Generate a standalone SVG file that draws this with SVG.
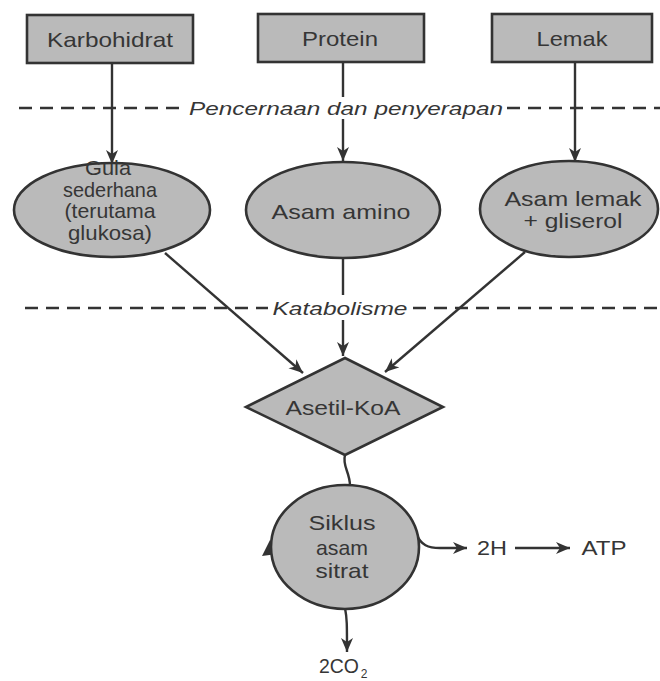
<svg xmlns="http://www.w3.org/2000/svg" width="660" height="681" viewBox="0 0 660 681">
<style>
.node{fill:#bababa;stroke:#333;stroke-width:2.6}
.t{font-family:"Liberation Sans",Arial,sans-serif;font-size:21px;fill:#363636;text-anchor:middle}
.i{font-style:italic;font-size:19px}
.dash{stroke:#333;stroke-width:2.5;stroke-dasharray:13 8;fill:none}
.c{stroke:#333;stroke-width:2.4;fill:none}
.ca{stroke:#333;stroke-width:2.4;fill:none;marker-end:url(#ah)}
</style>
<defs>
<marker id="ah" markerUnits="userSpaceOnUse" markerWidth="16" markerHeight="14" refX="14" refY="6" orient="auto">
<path d="M0,0 L14,6 L0,12 L4,6 z" fill="#333"/>
</marker>
</defs>
<rect width="660" height="681" fill="#fff"/>

<g id="separators">
<line class="dash" x1="19" y1="108" x2="186" y2="108"/>
<line class="dash" x1="507" y1="108" x2="660" y2="108"/>
<text class="t i" x="346" y="115" textLength="314" lengthAdjust="spacingAndGlyphs">Pencernaan dan penyerapan</text>
<line class="dash" x1="25" y1="308" x2="268" y2="308"/>
<line class="dash" x1="413" y1="308" x2="660" y2="308"/>
<text class="t i" x="340" y="315" textLength="135" lengthAdjust="spacingAndGlyphs">Katabolisme</text>
</g>

<g id="connectors">
<line class="ca" x1="112" y1="63" x2="112" y2="164"/>
<line class="c" x1="343" y1="62" x2="343" y2="97"/>
<line class="ca" x1="343" y1="119" x2="343" y2="161"/>
<line class="ca" x1="575" y1="63" x2="575" y2="162"/>
<line class="ca" x1="165" y1="253" x2="303" y2="373"/>
<line class="c" x1="343" y1="258" x2="343" y2="295"/>
<line class="ca" x1="343" y1="320" x2="343" y2="356"/>
<line class="ca" x1="525" y1="252" x2="385" y2="372"/>
<path class="c" d="M345,455 C342,466 350,472 350,486"/>
<path class="ca" d="M417,535 C421,545 428,548 440,548 L467,548"/>
<line class="ca" x1="515" y1="548" x2="570" y2="548"/>
<path class="ca" d="M345,608 C347,618 347,624 347,652"/>
<polygon points="262,556 270,540 277,554" fill="#333"/>
</g>

<g id="karbohidrat">
<rect class="node" x="27" y="15" width="166" height="48"/>
<text class="t" x="110" y="47" textLength="126" lengthAdjust="spacingAndGlyphs">Karbohidrat</text>
</g>
<g id="protein">
<rect class="node" x="258" y="14" width="166" height="48"/>
<text class="t" x="340" y="46" textLength="76" lengthAdjust="spacingAndGlyphs">Protein</text>
</g>
<g id="lemak">
<rect class="node" x="492" y="14" width="160" height="48"/>
<text class="t" x="572" y="46" textLength="71" lengthAdjust="spacingAndGlyphs">Lemak</text>
</g>

<g id="gula">
<ellipse class="node" cx="112" cy="210" rx="98" ry="47"/>
<text class="t" x="108" y="175" textLength="46" lengthAdjust="spacingAndGlyphs">Gula</text>
<text class="t" x="110" y="197" textLength="94" lengthAdjust="spacingAndGlyphs">sederhana</text>
<text class="t" x="110" y="218" textLength="91" lengthAdjust="spacingAndGlyphs">(terutama</text>
<text class="t" x="110" y="240" textLength="84" lengthAdjust="spacingAndGlyphs">glukosa)</text>
</g>
<g id="asam-amino">
<ellipse class="node" cx="343" cy="210" rx="97" ry="48"/>
<text class="t" x="341" y="219" textLength="139" lengthAdjust="spacingAndGlyphs">Asam amino</text>
</g>
<g id="asam-lemak">
<ellipse class="node" cx="569" cy="209" rx="89" ry="48"/>
<text class="t" x="573" y="206" textLength="137" lengthAdjust="spacingAndGlyphs">Asam lemak</text>
<text class="t" x="573" y="228" textLength="99" lengthAdjust="spacingAndGlyphs">+ gliserol</text>
</g>

<g id="asetil-koa">
<polygon class="node" points="345,358 443,407 345,455 246,407"/>
<text class="t" x="343" y="415" textLength="115" lengthAdjust="spacingAndGlyphs">Asetil-KoA</text>
</g>

<g id="siklus">
<ellipse class="node" cx="345" cy="547" rx="74" ry="62"/>
<text class="t" x="342" y="530" textLength="67" lengthAdjust="spacingAndGlyphs">Siklus</text>
<text class="t" x="342" y="555" textLength="52" lengthAdjust="spacingAndGlyphs">asam</text>
<text class="t" x="342" y="578" textLength="53" lengthAdjust="spacingAndGlyphs">sitrat</text>
</g>

<g id="h2">
<text class="t" x="492" y="555" textLength="30" lengthAdjust="spacingAndGlyphs">2H</text>
</g>
<g id="atp">
<text class="t" x="604" y="555" textLength="45" lengthAdjust="spacingAndGlyphs">ATP</text>
</g>
<g id="co2">
<text class="t" x="339" y="673" textLength="40" lengthAdjust="spacingAndGlyphs">2CO</text>
<text class="t" x="364" y="678" style="font-size:12px">2</text>
</g>
</svg>
